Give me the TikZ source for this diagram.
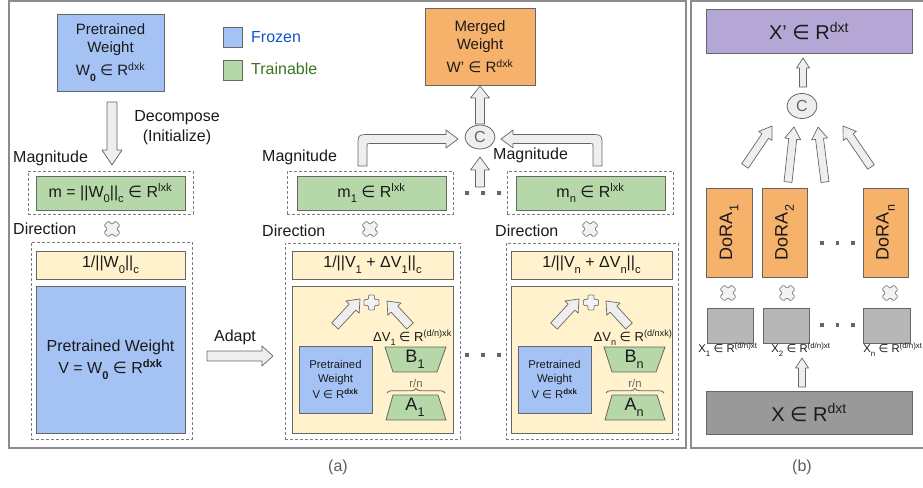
\documentclass[tikz,border=0pt]{standalone}
\usepackage{fontspec}
\setmainfont{Liberation Sans}
\newfontfamily\dejavu{DejaVu Sans}
\usetikzlibrary{calc,decorations.pathreplacing,shapes.geometric}
\definecolor{cblue}{HTML}{A4C2F4}
\definecolor{cgreen}{HTML}{B6D7A8}
\definecolor{ccream}{HTML}{FFF2CC}
\definecolor{corange}{HTML}{F6B26B}
\definecolor{cpurple}{HTML}{B4A7D6}
\definecolor{cgrayl}{HTML}{B7B7B7}
\definecolor{cgrayd}{HTML}{999999}
\definecolor{cborder}{HTML}{666666}
\definecolor{ctext}{HTML}{1A1A1A}
\definecolor{cfrozen}{HTML}{1155CC}
\definecolor{ctrain}{HTML}{38761D}
\definecolor{carrow}{HTML}{EEEEEE}
\definecolor{cpanel}{HTML}{8C8C8C}
\newcommand\inn{{\dejavu ∈}}
\newcommand\sps[1]{\textsuperscript{#1}}
\newcommand\sbs[1]{\raisebox{-0.35em}{\fontsize{0.7\dimexpr\fontdimen6\font\relax}{1em}\selectfont #1}}
\newcommand\barrow[5]{%
  \path let \p1=#1, \p2=#2 in \pgfextra{%
    \pgfmathsetmacro\tmpang{atan2(\y2-\y1,\x2-\x1)}%
    \pgfmathsetmacro\tmplen{veclen(\x2-\x1,\y2-\y1)}%
    \xdef\baang{\tmpang}\xdef\balen{\tmplen}%
    \xdef\bax{\x1}\xdef\bay{\y1}};
  \draw[blockarrow, shift={(\bax,\bay)}, rotate=\baang]
    (0,-#3) -- ({\balen-#5},-#3) -- ({\balen-#5},-#4) -- (\balen,0)
    -- ({\balen-#5},#4) -- ({\balen-#5},#3) -- (0,#3) -- cycle;}
\tikzset{
  box/.style={draw=cborder, line width=0.8pt, inner sep=0pt, align=center, text=ctext},
  dbox/.style={draw=cborder!85, dash pattern=on 3pt off 2pt, line width=0.7pt, inner sep=0pt},
  blockarrow/.style={draw=cborder, fill=carrow, line width=0.7pt, line join=round},
  lbl/.style={text=ctext, inner sep=0pt},
  panel/.style={draw=cpanel, line width=1.2pt},
  markst/.style={draw=cborder!80, fill=carrow!70!white, line width=0.75pt, line join=round},
  fA/.style={font=\fontsize{16}{20}\selectfont},
  fB/.style={font=\fontsize{15}{18}\selectfont},
  fS/.style={font=\fontsize{11.3}{14}\selectfont},
  fM/.style={font=\fontsize{13}{15}\selectfont},
  fL/.style={font=\fontsize{18}{20}\selectfont},
  fX/.style={font=\fontsize{20}{22}\selectfont},
  bracest/.style={draw=cborder, line width=0.8pt, decorate, decoration={brace, amplitude=4.5pt}},
  xmark/.pic={\draw[markst, rotate=45, rounded corners=1.2pt] (-3.2,-8.2) -- (3.2,-8.2) -- (3.2,-3.2) -- (8.2,-3.2) -- (8.2,3.2) -- (3.2,3.2) -- (3.2,8.2) -- (-3.2,8.2) -- (-3.2,3.2) -- (-8.2,3.2) -- (-8.2,-3.2) -- (-3.2,-3.2) -- cycle;},
  plusmark/.pic={\draw[markst, rounded corners=1pt] (-3,-7.5) -- (3,-7.5) -- (3,-3) -- (7.5,-3) -- (7.5,3) -- (3,3) -- (3,7.5) -- (-3,7.5) -- (-3,3) -- (-7.5,3) -- (-7.5,-3) -- (-3,-3) -- cycle;},
  dotsq/.pic={\fill[cborder] (-1.6,-1.6) rectangle (1.6,1.6);},
}
\begin{document}
\begin{tikzpicture}[x=1pt,y=-1pt]
\useasboundingbox (0,0) rectangle (923,487);
% panels
\draw[panel] (9,1) rectangle (686,448);
\draw[panel] (691,1) rectangle (925,448);

% ---------- panel (a), left part ----------
\node[box, fill=cblue, minimum width=107pt, minimum height=77pt, fB] (pw) at (110.5,52.5)
  {Pretrained\\Weight\\[5pt]W\sbs{\textbf{0}} \inn{} R\sps{dxk}};
\node[box, fill=cblue, minimum width=19pt, minimum height=20pt] (legb) at (232.5,37) {};
\node[box, fill=cgreen, minimum width=19pt, minimum height=20pt] (legg) at (232.5,70) {};
\node[lbl, anchor=west, text=cfrozen, fA] (frozen) at (251,37) {Frozen};
\node[lbl, anchor=west, text=ctrain, fA] (trainable) at (251,69) {Trainable};

\node[lbl, fA, align=center] (decomp) at (177,128) {Decompose\\(Initialize)};
\barrow{(112,102)}{(112,165)}{5}{10}{15}

\node[lbl, anchor=west, fA] (magL) at (13,158) {Magnitude};
\node[dbox, minimum width=165pt, minimum height=43pt] (mdl) at (110.5,192.5) {};
\node[box, fill=cgreen, minimum width=149pt, minimum height=34pt, fA] (mL) at (110.5,193)
  {m = ||W\sbs{0}||\sbs{c} \inn{} R\sps{lxk}};
\node[lbl, anchor=west, fA] (dirL) at (13,229) {Direction};
\pic at (112,229) {xmark};
\node[dbox, minimum width=161pt, minimum height=197pt] (ddl) at (111.5,340.5) {};
\node[box, fill=ccream, minimum width=149pt, minimum height=28pt, fA] (invL) at (110.5,265)
  {1/||W\sbs{0}||\sbs{c}};
\node[box, fill=cblue, minimum width=149pt, minimum height=147pt, font=\fontsize{16}{22}\selectfont] (vL) at (110.5,359.5)
  {Pretrained Weight\\V = W\sbs{\textbf{0}} \inn{} R\sps{\textbf{dxk}}};

\node[lbl, fA] (adapt) at (235,337) {Adapt};
\barrow{(207,356)}{(273,356)}{5}{10}{11}

% ---------- panel (a), right part ----------
\node[box, fill=corange, minimum width=110pt, minimum height=77pt, fB] (merged) at (480,46.5)
  {Merged\\Weight\\[5pt]W’ \inn{} R\sps{dxk}};
\node[draw=cborder, fill=carrow, ellipse, line width=0.8pt, minimum width=30pt, minimum height=24pt, inner sep=0pt, text=cborder, fA] (cC) at (480,137) {C};
\barrow{(480,124)}{(480,86)}{4.5}{9.5}{12}
\barrow{(480,187)}{(480,157)}{4.5}{9.5}{13}

\node[lbl, anchor=west, fA] (magM) at (262,157) {Magnitude};
\node[lbl, anchor=west, fA] (magR) at (493,155) {Magnitude};
\node[dbox, minimum width=166pt, minimum height=43pt] (md1) at (370,192.5) {};
\node[box, fill=cgreen, minimum width=149pt, minimum height=34pt, fA] (m1) at (371.5,193)
  {m\sbs{1} \inn{} R\sps{lxk}};
\node[dbox, minimum width=166pt, minimum height=43pt] (mdn) at (590,192.5) {};
\node[box, fill=cgreen, minimum width=149pt, minimum height=34pt, fA] (mn) at (590.5,193)
  {m\sbs{n} \inn{} R\sps{lxk}};
\pic at (467,193) {dotsq}; \pic at (483,193) {dotsq}; \pic at (499,193) {dotsq};

% curved arrows
\draw[blockarrow] (358,166) -- (358,146.5) .. controls (358,134.5) .. (370,134.5) -- (446,134.5)
  -- (446,130) -- (458,139) -- (446,148) -- (446,143.5) -- (370,143.5)
  .. controls (367,143.5) .. (367,146.5) -- (367,166) -- cycle;
\draw[blockarrow] (602,166) -- (602,146.5) .. controls (602,134.5) .. (590,134.5) -- (513,134.5)
  -- (513,130) -- (501,139) -- (513,148) -- (513,143.5) -- (590,143.5)
  .. controls (593,143.5) .. (593,146.5) -- (593,166) -- cycle;

\node[lbl, anchor=west, fA] (dirM) at (262,231) {Direction};
\pic at (370,229) {xmark};
\node[lbl, anchor=west, fA] (dirR) at (495,231) {Direction};
\pic at (590,229) {xmark};

% middle direction block
\node[dbox, minimum width=175pt, minimum height=196pt] (dd1) at (372.5,341) {};
\node[box, fill=ccream, minimum width=161pt, minimum height=28pt, fA] (inv1) at (372.5,265)
  {1/||V\sbs{1} + ΔV\sbs{1}||\sbs{c}};
\node[box, fill=ccream, minimum width=161pt, minimum height=147pt] (in1) at (372.5,359.5) {};
\pic at (371.5,302.5) {plusmark};
\barrow{(335,326)}{(360,299)}{4.5}{9}{11}
\barrow{(410,326)}{(387,301)}{4.5}{9}{11}
\node[lbl, fM] (dv1) at (412.5,338) {ΔV\sbs{1} \inn{} R\sps{(d/n)xk}};
\node[box, fill=cblue, minimum width=73pt, minimum height=67pt, fS] (pv1) at (335.5,379.5)
  {Pretrained\\Weight\\[2pt]V \inn{} R\sps{\textbf{dxk}}};
\draw[box, fill=cgreen] (385,347) -- (446,347) -- (437,372) -- (393,372) -- cycle;
\node[lbl, fL] (B1) at (415,359) {B\sbs{1}};
\draw[box, fill=cgreen] (393,395) -- (438,395) -- (446,420) -- (386,420) -- cycle;
\node[lbl, fL] (A1) at (415,407) {A\sbs{1}};
\draw[bracest] (387,393) -- (445,393);
\node[lbl, fS, text=cborder] (rn1) at (416,383) {r/n};

\pic at (467,355) {dotsq}; \pic at (483,355) {dotsq}; \pic at (499,355) {dotsq};

% right direction block
\node[dbox, minimum width=172pt, minimum height=196pt] (ddn) at (592,341) {};
\node[box, fill=ccream, minimum width=161pt, minimum height=28pt, fA] (invn) at (591.5,265)
  {1/||V\sbs{n} + ΔV\sbs{n}||\sbs{c}};
\node[box, fill=ccream, minimum width=161pt, minimum height=147pt] (inn) at (591.5,359.5) {};
\pic at (591,302.5) {plusmark};
\barrow{(554,326)}{(579,299)}{4.5}{9}{11}
\barrow{(629,326)}{(606,301)}{4.5}{9}{11}
\node[lbl, fM] (dvn) at (633,338) {ΔV\sbs{n} \inn{} R\sps{(d/nxk)}};
\node[box, fill=cblue, minimum width=73pt, minimum height=67pt, fS] (pvn) at (554.5,379.5)
  {Pretrained\\Weight\\[2pt]V \inn{} R\sps{\textbf{dxk}}};
\draw[box, fill=cgreen] (604,347) -- (665,347) -- (656,372) -- (612,372) -- cycle;
\node[lbl, fL] (Bn) at (634,359) {B\sbs{n}};
\draw[box, fill=cgreen] (612,395) -- (657,395) -- (665,420) -- (605,420) -- cycle;
\node[lbl, fL] (An) at (634,407) {A\sbs{n}};
\draw[bracest] (606,393) -- (664,393);
\node[lbl, fS, text=cborder] (rnn) at (635,383) {r/n};

\node[lbl, fA, text=cborder!90!black] (capa) at (338,467) {(a)};

% ---------- panel (b) ----------
\node[box, fill=cpurple, minimum width=206pt, minimum height=44pt, fX] (xp) at (809,31)
  {X’ \inn{} R\sps{dxt}};
\node[draw=cborder, fill=carrow, ellipse, line width=0.8pt, minimum width=30pt, minimum height=25pt, inner sep=0pt, text=cborder, fA] (cb) at (802,106) {C};
\barrow{(803,87)}{(803,58)}{3.5}{6.5}{10}
\barrow{(745,166)}{(772,126)}{4}{8}{12}
\barrow{(788,182)}{(794,127)}{4}{8}{12}
\barrow{(825,182)}{(818,127)}{4}{8}{12}
\barrow{(871,167)}{(843,126)}{4}{8}{12}

\node[box, fill=corange, rotate=90, minimum width=89pt, minimum height=46pt, fL] (dora1) at (729,232.5) {DoRA\sbs{1}};
\node[box, fill=corange, rotate=90, minimum width=89pt, minimum height=45pt, fL] (dora2) at (784.5,232.5) {DoRA\sbs{2}};
\node[box, fill=corange, rotate=90, minimum width=89pt, minimum height=45pt, fL] (doran) at (885.5,232.5) {DoRA\sbs{n}};
\pic at (822,243) {dotsq}; \pic at (837.5,243) {dotsq}; \pic at (853,243) {dotsq};

\pic at (728,293) {xmark};
\pic at (787,293) {xmark};
\pic at (890,293) {xmark};

\node[box, fill=cgrayl, minimum width=46pt, minimum height=35pt] (xs1) at (730,325.5) {};
\node[box, fill=cgrayl, minimum width=46pt, minimum height=35pt] (xs2) at (786,325.5) {};
\node[box, fill=cgrayl, minimum width=47pt, minimum height=35pt] (xsn) at (886.5,325.5) {};
\pic at (822,325) {dotsq}; \pic at (837.5,325) {dotsq}; \pic at (853,325) {dotsq};
\node[lbl, fS] (lx1) at (728,350) {X\sbs{1} \inn{} R\sps{(d/n)xt}};
\node[lbl, fS] (lx2) at (801,350) {X\sbs{2} \inn{} R\sps{(d/n)xt}};
\node[lbl, fS] (lxn) at (893,350) {X\sbs{n} \inn{} R\sps{(d/n)xt}};

\barrow{(802,387)}{(802,358)}{3.5}{6.5}{10}
\node[box, fill=cgrayd, minimum width=206pt, minimum height=43pt, fX] (xbig) at (809,412.5)
  {X \inn{} R\sps{dxt}};

\node[lbl, fA, text=cborder!90!black] (capb) at (802,467) {(b)};
\end{tikzpicture}
\end{document}
